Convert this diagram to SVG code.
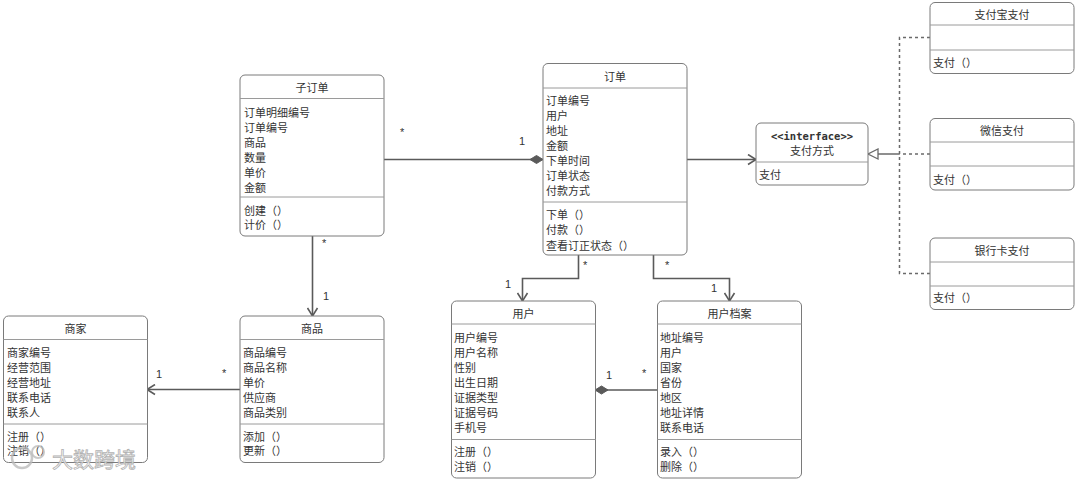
<svg xmlns="http://www.w3.org/2000/svg" width="1080" height="479" viewBox="0 0 1080 479">
<style>
.box{fill:#fff;stroke:#7a7a7a;stroke-width:1}
.sep{stroke:#9a9a9a;stroke-width:1}
text{font-family:"Noto Sans CJK SC","Noto Sans",sans-serif;font-size:11px;fill:#333;dominant-baseline:central}
.c{text-anchor:middle}
.mono{font-family:"DejaVu Sans Mono","Liberation Mono",monospace;font-weight:bold;font-size:10.5px}
.ln{fill:none;stroke:#5a5a5a;stroke-width:1.6}
.dash{fill:none;stroke:#6a6a6a;stroke-width:1.5;stroke-dasharray:3 3}
.m{font-family:"Liberation Sans",sans-serif;font-size:11px}
.wm{font-size:21px;fill:#fff;stroke:#aaa;stroke-width:0.8;opacity:0.9}
</style>
<defs>
<marker id="open" markerWidth="12" markerHeight="12" refX="10" refY="6" orient="auto" markerUnits="userSpaceOnUse">
<path d="M2,1 L10,6 L2,11" fill="none" stroke="#5a5a5a" stroke-width="1.6"/>
</marker>
<marker id="dia" markerWidth="16" markerHeight="10" refX="14" refY="5" orient="auto" markerUnits="userSpaceOnUse">
<path d="M1,5 L7.5,1 L14,5 L7.5,9 Z" fill="#5a5a5a" stroke="#5a5a5a" stroke-width="1"/>
</marker>
<marker id="tri" markerWidth="14" markerHeight="12" refX="12" refY="6" orient="auto" markerUnits="userSpaceOnUse">
<path d="M2,1 L12,6 L2,11 Z" fill="#fff" stroke="#6a6a6a" stroke-width="1.3"/>
</marker>
</defs>

<g id="connectors">
<path class="ln" d="M384,159.5 H543" marker-end="url(#dia)"/>
<text class="m" x="400" y="132">*</text>
<text class="m" x="519" y="141">1</text>
<path class="ln" d="M312.5,236 V316" marker-end="url(#open)"/>
<text class="m" x="322" y="243">*</text>
<text class="m" x="323" y="296">1</text>
<path class="ln" d="M240,389.5 H147" marker-end="url(#open)"/>
<text class="m" x="156" y="374">1</text>
<text class="m" x="222" y="373">*</text>
<path class="ln" d="M687,159.5 H756" marker-end="url(#open)"/>
<path class="ln" d="M578.5,255 V278.5 H522.5 V301" marker-end="url(#open)"/>
<text class="m" x="583" y="265">*</text>
<text class="m" x="505" y="284">1</text>
<path class="ln" d="M653.5,255 V278.5 H729.5 V301" marker-end="url(#open)"/>
<text class="m" x="665" y="265">*</text>
<text class="m" x="711" y="288">1</text>
<path class="ln" d="M657,390 H595" marker-end="url(#dia)"/>
<text class="m" x="606" y="375">1</text>
<text class="m" x="642" y="373">*</text>
<path class="dash" d="M930,37.5 H899.5 V273.5 H930"/>
<path class="dash" d="M930,154 H899.5"/>
<path d="M899.5,154 H868" fill="none" stroke="#6a6a6a" stroke-width="1.5" marker-end="url(#tri)"/>
</g>

<g id="zidingdan">
<rect class="box" x="240" y="75" width="144" height="161" rx="5"/>
<line class="sep" x1="240" y1="98.5" x2="384" y2="98.5"/>
<line class="sep" x1="240" y1="197" x2="384" y2="197"/>
<text class="c" x="312" y="86.5">子订单</text>
<text x="244" y="111.5">订单明细编号</text>
<text x="244" y="126.5">订单编号</text>
<text x="244" y="141.5">商品</text>
<text x="244" y="156.5">数量</text>
<text x="244" y="171.5">单价</text>
<text x="244" y="186.5">金额</text>
<text x="244" y="209.5">创建（）</text>
<text x="244" y="224">计价（）</text>
</g>

<g id="dingdan">
<rect class="box" x="543" y="63.5" width="144" height="191.5" rx="5"/>
<line class="sep" x1="543" y1="88" x2="687" y2="88"/>
<line class="sep" x1="543" y1="202" x2="687" y2="202"/>
<text class="c" x="615" y="75.5">订单</text>
<text x="546" y="99.5">订单编号</text>
<text x="546" y="114.5">用户</text>
<text x="546" y="129.5">地址</text>
<text x="546" y="144.5">金额</text>
<text x="546" y="159.5">下单时间</text>
<text x="546" y="174.5">订单状态</text>
<text x="546" y="189.5">付款方式</text>
<text x="546" y="214">下单（）</text>
<text x="546" y="229">付款（）</text>
<text x="546" y="244.5">查看订正状态（）</text>
</g>

<g id="zhifufangshi">
<rect class="box" x="756" y="123" width="112" height="62" rx="5"/>
<line class="sep" x1="756" y1="162" x2="868" y2="162"/>
<text class="c mono" x="812" y="135.5">&lt;&lt;interface&gt;&gt;</text>
<text class="c" x="812" y="149.5">支付方式</text>
<text x="759" y="173.5">支付</text>
</g>

<g id="zhifubao">
<rect class="box" x="930" y="2.5" width="144" height="71" rx="5"/>
<line class="sep" x1="930" y1="25" x2="1074" y2="25"/>
<line class="sep" x1="930" y1="50" x2="1074" y2="50"/>
<text class="c" x="1002" y="14">支付宝支付</text>
<text x="933" y="62">支付（）</text>
</g>

<g id="weixin">
<rect class="box" x="930" y="118.5" width="144" height="71.5" rx="5"/>
<line class="sep" x1="930" y1="142" x2="1074" y2="142"/>
<line class="sep" x1="930" y1="166" x2="1074" y2="166"/>
<text class="c" x="1002" y="129.5">微信支付</text>
<text x="933" y="178.5">支付（）</text>
</g>

<g id="yinhangka">
<rect class="box" x="930" y="238" width="144" height="71.5" rx="5"/>
<line class="sep" x1="930" y1="262" x2="1074" y2="262"/>
<line class="sep" x1="930" y1="286" x2="1074" y2="286"/>
<text class="c" x="1002" y="249.5">银行卡支付</text>
<text x="933" y="297">支付（）</text>
</g>

<g id="shangjia">
<rect class="box" x="3.5" y="316" width="144" height="146.5" rx="5"/>
<line class="sep" x1="3.5" y1="339.5" x2="147.5" y2="339.5"/>
<line class="sep" x1="3.5" y1="424" x2="147.5" y2="424"/>
<text class="c" x="75.5" y="328">商家</text>
<text x="7" y="352">商家编号</text>
<text x="7" y="366.5">经营范围</text>
<text x="7" y="381.5">经营地址</text>
<text x="7" y="396.5">联系电话</text>
<text x="7" y="411.5">联系人</text>
<text x="7" y="436">注册（）</text>
<text x="7" y="450">注销（）</text>
</g>

<g id="shangpin">
<rect class="box" x="240" y="316" width="144" height="146.5" rx="5"/>
<line class="sep" x1="240" y1="339.5" x2="384" y2="339.5"/>
<line class="sep" x1="240" y1="424" x2="384" y2="424"/>
<text class="c" x="312" y="328">商品</text>
<text x="243" y="352">商品编号</text>
<text x="243" y="366.5">商品名称</text>
<text x="243" y="381.5">单价</text>
<text x="243" y="396.5">供应商</text>
<text x="243" y="411.5">商品类别</text>
<text x="243" y="436">添加（）</text>
<text x="243" y="450">更新（）</text>
</g>

<g id="yonghu">
<rect class="box" x="451.5" y="301" width="144" height="177" rx="5"/>
<line class="sep" x1="451.5" y1="324" x2="595.5" y2="324"/>
<line class="sep" x1="451.5" y1="439.5" x2="595.5" y2="439.5"/>
<text class="c" x="523.5" y="313">用户</text>
<text x="454" y="337">用户编号</text>
<text x="454" y="352">用户名称</text>
<text x="454" y="367">性别</text>
<text x="454" y="382">出生日期</text>
<text x="454" y="397">证据类型</text>
<text x="454" y="412">证据号码</text>
<text x="454" y="427">手机号</text>
<text x="454" y="451">注册（）</text>
<text x="454" y="465.5">注销（）</text>
</g>

<g id="yonghudangan">
<rect class="box" x="657.5" y="301" width="144" height="177" rx="5"/>
<line class="sep" x1="657.5" y1="324" x2="801.5" y2="324"/>
<line class="sep" x1="657.5" y1="439.5" x2="801.5" y2="439.5"/>
<text class="c" x="729.5" y="313">用户档案</text>
<text x="660" y="337">地址编号</text>
<text x="660" y="352">用户</text>
<text x="660" y="367">国家</text>
<text x="660" y="382">省份</text>
<text x="660" y="397">地区</text>
<text x="660" y="412">地址详情</text>
<text x="660" y="427">联系电话</text>
<text x="660" y="451">录入（）</text>
<text x="660" y="465.5">删除（）</text>
</g>

<g id="watermark">
<circle cx="22" cy="458" r="10" fill="none" stroke="#bbb" stroke-width="2.5" opacity="0.8"/>
<circle cx="38" cy="452" r="6" fill="none" stroke="#bbb" stroke-width="2" opacity="0.8"/>
<text class="wm" x="52" y="458">大数跨境</text>
</g>
</svg>
